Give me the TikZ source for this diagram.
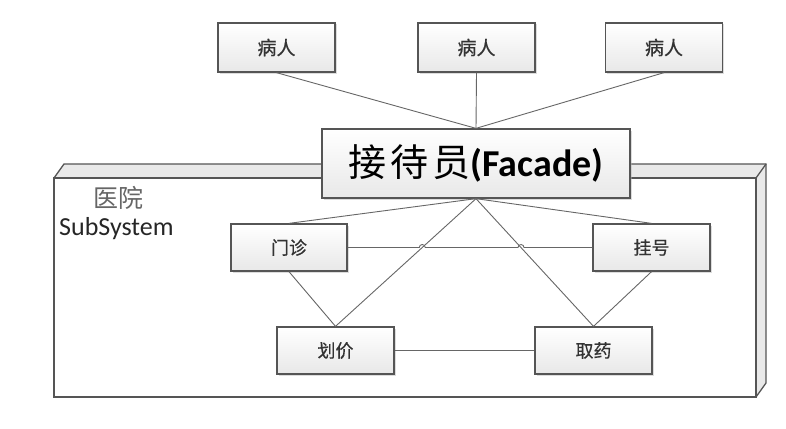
\documentclass[tikz,border=0pt]{standalone}
\usepackage{fontspec}
\setmainfont{Carlito}
\newfontfamily\cjk{Noto Sans CJK SC}
\newfontfamily\cjkb[FakeBold=0.6]{Noto Sans CJK SC}
\usetikzlibrary{shadows,calc}
\definecolor{bord}{HTML}{555555}
\definecolor{lin}{HTML}{666666}
\definecolor{face}{HTML}{E9E9E9}
\tikzset{
  box/.style={draw=bord, line width=1.3pt, top color=white, bottom color=black!9,
    minimum width=117pt, minimum height=47pt, inner sep=0pt,
    font=\cjkb\fontsize{18}{20}\selectfont, text=black!80,
    drop shadow={shadow xshift=1.5pt, shadow yshift=-1.5pt, fill=black!30, opacity=0.45}},
  conn/.style={draw=lin, line width=0.9pt},
  frame/.style={draw=bord, line width=1.3pt},
}
\begin{document}
\begin{tikzpicture}[x=1pt,y=1pt]
\useasboundingbox (0,0) rectangle (786,-428);
% subsystem 3D box
\fill[face] (54,-178) -- (64,-164) -- (766,-164) -- (756,-178) -- cycle;
\fill[face] (756,-178) -- (766,-164) -- (766,-383) -- (756,-397) -- cycle;
\draw[frame] (54,-178) rectangle (756,-397);
\draw[frame] (54,-178) -- (64,-164) -- (766,-164) -- (766,-383) -- (756,-397);
\draw[frame] (756,-178) -- (766,-164);
\node[font=\cjk\fontsize{25}{27}\selectfont, text=black!60, inner sep=0pt] (yy) at (118,-198) {医院};
\node[anchor=west, font=\fontsize{26}{28}\selectfont, text=black!85, inner sep=0pt] (ss) at (59,-229) {SubSystem};
% patients
\node[box, minimum height=49pt, font=\cjkb\fontsize{19}{21}\selectfont] (p1) at (276.5,-47.5) {病人};
\node[box, minimum height=49pt, font=\cjkb\fontsize{19}{21}\selectfont] (p2) at (476.5,-47.5) {病人};
\node[box, minimum height=49pt, font=\cjkb\fontsize{19}{21}\selectfont] (p3) at (664,-47.5) {病人};
% facade
\node[box, minimum width=308pt, minimum height=69pt, font=\fontsize{38}{40}\selectfont, text=black] (f) at (476,-163.5)
  {{\cjk 接\hspace{4pt}待\hspace{4pt}员}\textbf{(Facade)}};
% subsystem boxes
\node[box, minimum width=116pt] (mz) at (289,-247.5) {门诊};
\node[box] (gh) at (651.5,-247.5) {挂号};
\node[box] (hj) at (335.5,-350.5) {划价};
\node[box] (qy) at (593.5,-350.5) {取药};
% connectors
\draw[conn] (p1.south) -- (f.north);
\draw[conn] (p2.south) -- (f.north);
\draw[conn] (p3.south) -- (f.north);
\draw[conn] (f.south) -- (mz.north);
\draw[conn] (f.south) -- (gh.north);
\draw[conn] (f.south) -- (hj.north);
\draw[conn] (f.south) -- (qy.north);
\draw[conn] (mz.south) -- (hj.north);
\draw[conn] (gh.south) -- (qy.north);
\draw[conn] (hj.east) -- (qy.west);
\coordinate (c1) at (intersection of mz.east--gh.west and f.south--hj.north);
\coordinate (c2) at (intersection of mz.east--gh.west and f.south--qy.north);
\draw[conn] (mz.east) -- ($(c1)+(-3,0)$) arc[start angle=180, end angle=0, radius=3pt]
  -- ($(c2)+(-3,0)$) arc[start angle=180, end angle=0, radius=3pt] -- (gh.west);
\end{tikzpicture}
\end{document}
